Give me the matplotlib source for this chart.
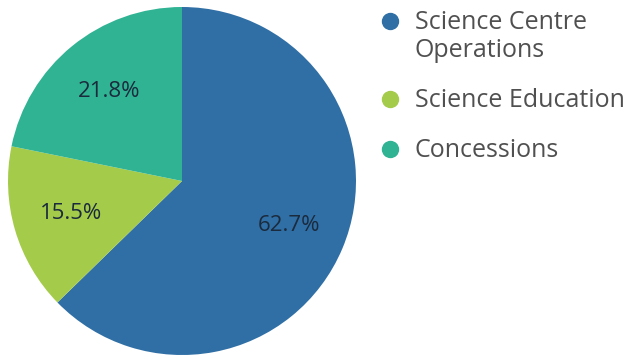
import matplotlib
matplotlib.use("Agg")
import matplotlib.pyplot as plt
from matplotlib.lines import Line2D

# 数据
categories = ["Science Centre\nOperations", "Science Education", "Concessions"]
shares = [62.7, 15.5, 21.8]
colors = ["#2f6fa5", "#a5cb4b", "#2fb393"]

plt.rcParams['font.family'] = ['Open Sans', 'DejaVu Sans']

W, H = 634, 360
fig = plt.figure(figsize=(W/100, H/100), dpi=100)
ax = fig.add_axes([8/W, 4/H, 348/W, 350/H])

wedges, texts, autotexts = ax.pie(shares, colors=colors, startangle=90, counterclock=False,
                                  autopct="%.1f%%", pctdistance=0.665,
                                  wedgeprops=dict(linewidth=0),
                                  textprops=dict(fontsize=16, color="#1b2a3c"))
ax.set_xlim(-1, 1)
ax.set_ylim(-1, 1)
ax.set_aspect("equal")

# 图例（手动排布，标记对齐第一行文字）
y = 21
for cat, col in zip(categories, colors):
    fig.add_artist(Line2D([390/W], [1 - y/H], marker="o", markersize=11.5, color=col,
                          linestyle="", transform=fig.transFigure))
    fig.text(415/W, 1 - (y - 11)/H, cat, fontsize=18, color="#505050",
             va="top", ha="left", linespacing=1.15)
    y += (cat.count("\n") + 1) * 28 + 22

fig.savefig("out.png", dpi=100)
